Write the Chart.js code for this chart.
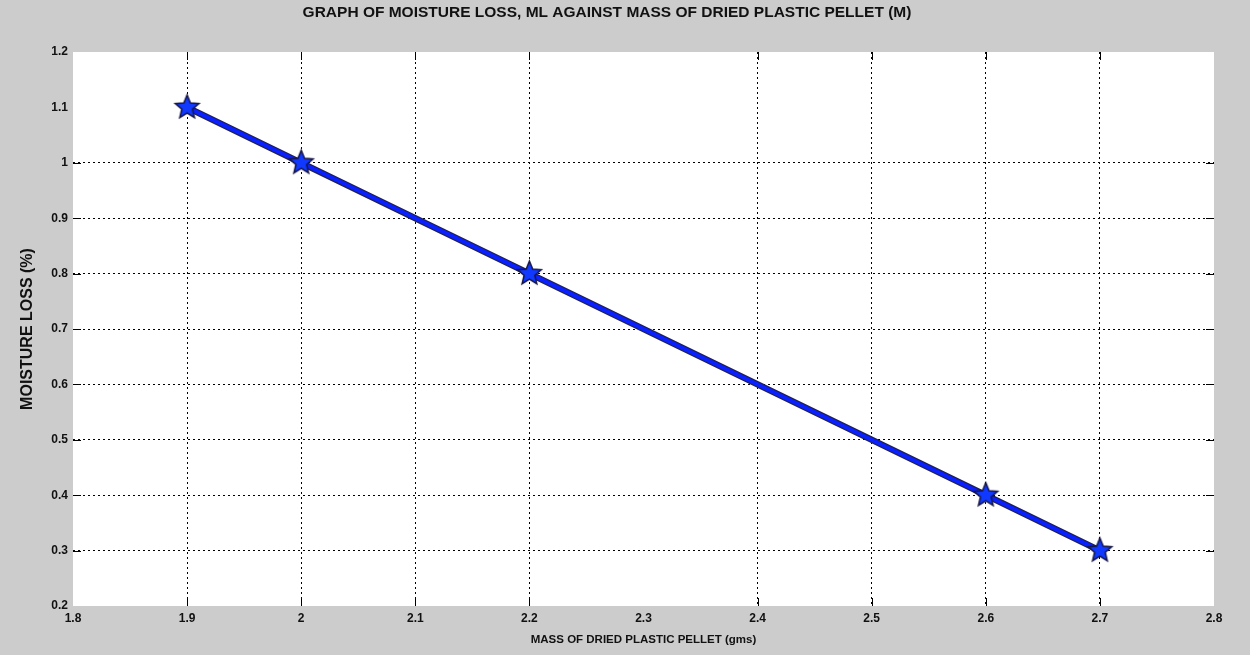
<!DOCTYPE html>
<html>
<head>
<meta charset="utf-8">
<script src="https://cdn.jsdelivr.net/npm/chart.js@4/dist/chart.umd.min.js"></script>
<style>
html,body{margin:0;padding:0;background:#cccccc;}
#wrap{width:1250px;height:655px;position:relative;}
</style>
</head>
<body>
<div id="wrap"><canvas id="c" width="1250" height="655"></canvas></div>
<script>
// ---- data ----
const massValues   = [1.9, 2.0, 2.2, 2.6, 2.7];
const moistureLoss = [1.1, 1.0, 0.8, 0.4, 0.3];

const xTickValues = [1.8, 1.9, 2.0, 2.1, 2.2, 2.3, 2.4, 2.5, 2.6, 2.7, 2.8];
const xTickLabels = ['1.8', '1.9', '2', '2.1', '2.2', '2.3', '2.4', '2.5', '2.6', '2.7', '2.8'];
const yTickValues = [0.2, 0.3, 0.4, 0.5, 0.6, 0.7, 0.8, 0.9, 1.0, 1.1, 1.2];
const yTickLabels = ['0.2', '0.3', '0.4', '0.5', '0.6', '0.7', '0.8', '0.9', '1', '1.1', '1.2'];

const xGridHidden = [2.3];
const yGridHidden = [1.1];

const titleText  = 'GRAPH OF MOISTURE LOSS, ML AGAINST MASS OF DRIED PLASTIC PELLET (M)';
const xAxisTitle = 'MASS OF DRIED PLASTIC PELLET (gms)';
const yAxisTitle = 'MOISTURE LOSS (%)';

// ---- helpers ----
const points = massValues.map((m, i) => ({x: m, y: moistureLoss[i]}));

function makeStar(r, fill, stroke) {
  const s = Math.ceil(r * 2 + 4);
  const c = document.createElement('canvas');
  c.width = s; c.height = s;
  const g = c.getContext('2d');
  g.beginPath();
  for (let i = 0; i < 10; i++) {
    const rad = i % 2 === 0 ? r : r * 0.45;
    const a = -Math.PI / 2 + i * Math.PI / 5;
    g.lineTo(s / 2 + rad * Math.cos(a), s / 2 + rad * Math.sin(a));
  }
  g.closePath();
  g.fillStyle = fill; g.fill();
  g.lineWidth = 1.5; g.strokeStyle = stroke; g.stroke();
  return c;
}
const starImg = makeStar(12.5, '#1038ff', '#151545');

function near(v, arr) { return arr.some(a => Math.abs(a - v) < 1e-9); }

function gridColor(hidden, min, max) {
  return (ctx) => {
    if (!ctx.tick) return '#000';
    const v = ctx.tick.value;
    if (near(v, hidden) || Math.abs(v - min) < 1e-9 || Math.abs(v - max) < 1e-9) return 'rgba(0,0,0,0)';
    return '#000';
  };
}

const plotBg = {
  id: 'plotBg',
  beforeDraw(chart) {
    const {ctx, chartArea: a} = chart;
    ctx.save();
    ctx.fillStyle = '#cccccc';
    ctx.fillRect(0, 0, chart.width, chart.height);
    ctx.fillStyle = '#ffffff';
    ctx.fillRect(a.left, a.top, a.right - a.left, a.bottom - a.top);
    ctx.restore();
  }
};

const innerTicks = {
  id: 'innerTicks',
  beforeDatasetsDraw(chart) {
    const {ctx, chartArea: a, scales} = chart;
    const L = 8;
    ctx.save();
    ctx.strokeStyle = '#000';
    ctx.lineWidth = 1;
    ctx.beginPath();
    xTickValues.slice(1, -1).forEach(v => {
      if (near(v, xGridHidden)) return;
      const px = Math.round(scales.x.getPixelForValue(v)) + 0.5;
      ctx.moveTo(px, a.top); ctx.lineTo(px, a.top + L);
      ctx.moveTo(px, a.bottom); ctx.lineTo(px, a.bottom - L);
    });
    yTickValues.slice(1, -1).forEach(v => {
      if (near(v, yGridHidden)) return;
      const py = Math.round(scales.y.getPixelForValue(v)) + 0.5;
      ctx.moveTo(a.left, py); ctx.lineTo(a.left + L, py);
      ctx.moveTo(a.right, py); ctx.lineTo(a.right - L, py);
    });
    ctx.stroke();
    ctx.restore();
  }
};

new Chart(document.getElementById('c'), {
  type: 'line',
  data: {
    datasets: [
      {
        data: points,
        borderColor: '#0a20ff',
        borderWidth: 4,
        pointStyle: starImg,
        pointRadius: 12,
        pointHoverRadius: 12,
        fill: false,
        tension: 0,
        order: 0
      },
      {
        data: points,
        borderColor: '#202050',
        borderWidth: 6.5,
        pointRadius: 0,
        pointHoverRadius: 0,
        fill: false,
        tension: 0,
        order: 1
      }
    ]
  },
  options: {
    responsive: false,
    animation: false,
    devicePixelRatio: 1,
    layout: {padding: {left: 0, right: 36, top: 0, bottom: 0}},
    plugins: {
      legend: {display: false},
      tooltip: {enabled: false},
      title: {
        display: true,
        text: titleText,
        color: '#111',
        font: {family: 'Liberation Sans, Arial, sans-serif', size: 15.5, weight: 'bold'},
        padding: {top: 3, bottom: 30.4}
      }
    },
    scales: {
      x: {
        type: 'linear',
        min: 1.8, max: 2.8,
        afterBuildTicks: (s) => { s.ticks = xTickValues.map(v => ({value: v})); },
        afterFit: (s) => { s.height = 49; },
        ticks: {
          autoSkip: false, maxRotation: 0, padding: 5,
          color: '#111',
          font: {family: 'Liberation Sans, Arial, sans-serif', size: 12, weight: 'bold'},
          callback: (v, i) => xTickLabels[i]
        },
        grid: {color: gridColor(xGridHidden, 1.8, 2.8), lineWidth: 1, drawTicks: false},
        border: {display: false, dash: [2, 3]},
        title: {
          display: true, text: xAxisTitle, color: '#111',
          font: {family: 'Liberation Sans, Arial, sans-serif', size: 11.5, weight: 'bold'},
          padding: {top: 0, bottom: 8}
        }
      },
      y: {
        type: 'linear',
        min: 0.2, max: 1.2,
        afterBuildTicks: (s) => { s.ticks = yTickValues.map(v => ({value: v})); },
        afterFit: (s) => { s.width = 73; },
        ticks: {
          autoSkip: false, padding: 5,
          color: '#111',
          font: {family: 'Liberation Sans, Arial, sans-serif', size: 12, weight: 'bold'},
          callback: (v, i) => yTickLabels[i]
        },
        grid: {color: gridColor(yGridHidden, 0.2, 1.2), lineWidth: 1, drawTicks: false},
        border: {display: false, dash: [2, 3]},
        title: {
          display: true, text: yAxisTitle, color: '#111',
          font: {family: 'Liberation Sans, Arial, sans-serif', size: 16, weight: 'bold'},
          padding: {top: 18, bottom: 0}
        }
      }
    }
  },
  plugins: [plotBg, innerTicks]
});
</script>
</body>
</html>
